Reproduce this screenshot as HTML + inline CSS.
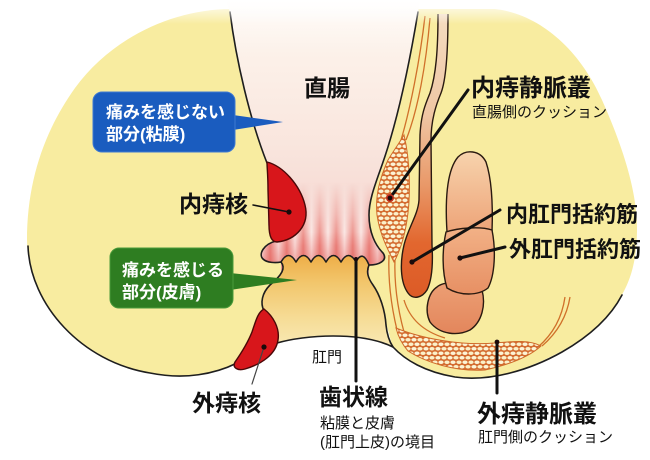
<!DOCTYPE html>
<html>
<head>
<meta charset="utf-8">
<style>
html,body{margin:0;padding:0;background:#fff;}
svg{display:block;}
text{font-family:"Liberation Sans","Noto Sans CJK JP",sans-serif;}
</style>
</head>
<body>
<svg xmlns="http://www.w3.org/2000/svg" width="650" height="460" viewBox="0 0 650 460">
<defs>
 <linearGradient id="rectg" x1="0" y1="0" x2="0" y2="270" gradientUnits="userSpaceOnUse">
  <stop offset="0" stop-color="#fffdfb"/>
  <stop offset="0.2" stop-color="#fcf1e9"/>
  <stop offset="0.55" stop-color="#f9e5dd"/>
  <stop offset="0.8" stop-color="#f6d8d2"/>
  <stop offset="1" stop-color="#f0c0ba"/>
 </linearGradient>
 <linearGradient id="colg" x1="0" y1="0" x2="1" y2="0">
  <stop offset="0" stop-color="#ea847e"/>
  <stop offset="0.5" stop-color="#fcefed"/>
  <stop offset="1" stop-color="#ea847e"/>
 </linearGradient>
 <pattern id="cols" x="286.75" y="0" width="16.5" height="460" patternUnits="userSpaceOnUse">
  <rect width="16.5" height="460" fill="url(#colg)"/>
 </pattern>
 <linearGradient id="fadeg" x1="0" y1="182" x2="0" y2="262" gradientUnits="userSpaceOnUse">
  <stop offset="0" stop-color="#000"/>
  <stop offset="0.4" stop-color="#666"/>
  <stop offset="0.8" stop-color="#fff"/>
 </linearGradient>
 <mask id="colmask" maskUnits="userSpaceOnUse" x="0" y="0" width="650" height="460">
  <rect x="250" y="170" width="150" height="100" fill="url(#fadeg)"/>
 </mask>
 <linearGradient id="redband" x1="0" y1="232" x2="0" y2="262" gradientUnits="userSpaceOnUse">
  <stop offset="0" stop-color="#e25a55" stop-opacity="0"/>
  <stop offset="1" stop-color="#e25a55" stop-opacity="0.45"/>
 </linearGradient>
 <clipPath id="canalclip">
  <path d="M 226,0 L 420,0 L 418,12 C 410,60 398,120 382,165 C 375,185 369,200 369,215 C 369,232 375,245 383,253 C 388,260 380,265 369,266 L 369,275 L 281,275 L 281,262 C 276,263 267,263 263,259 C 258,254 264,244 276,241 L 268,225 L 267,163 C 250,120 236,60 230,12 Z"/>
 </clipPath>
 <linearGradient id="anod" x1="0" y1="256" x2="0" y2="345" gradientUnits="userSpaceOnUse">
  <stop offset="0" stop-color="#eeae48"/>
  <stop offset="0.3" stop-color="#f2c66c"/>
  <stop offset="0.7" stop-color="#f6dc96"/>
  <stop offset="1" stop-color="#f8e8b2"/>
 </linearGradient>
 <linearGradient id="isph" x1="0" y1="14" x2="0" y2="300" gradientUnits="userSpaceOnUse">
  <stop offset="0" stop-color="#f4dcc0"/>
  <stop offset="0.35" stop-color="#efc6a4"/>
  <stop offset="0.6" stop-color="#e99868"/>
  <stop offset="0.8" stop-color="#e2672f"/>
  <stop offset="1" stop-color="#dc5a26"/>
 </linearGradient>
 <linearGradient id="esU" x1="0" y1="0" x2="0" y2="1">
  <stop offset="0" stop-color="#f7d3ad"/>
  <stop offset="1" stop-color="#eda276"/>
 </linearGradient>
 <linearGradient id="esM" x1="0" y1="0" x2="0" y2="1">
  <stop offset="0" stop-color="#f2b186"/>
  <stop offset="1" stop-color="#e79064"/>
 </linearGradient>
 <linearGradient id="esL" x1="0" y1="0" x2="0" y2="1">
  <stop offset="0" stop-color="#ec9f74"/>
  <stop offset="1" stop-color="#e3865c"/>
 </linearGradient>
 <pattern id="mesh" width="12" height="9" patternUnits="userSpaceOnUse">
  <rect width="12" height="9" fill="#d46c30"/>
  <ellipse cx="3" cy="2.25" rx="2.6" ry="1.75" fill="#fbf0c8"/>
  <ellipse cx="9" cy="2.25" rx="2.6" ry="1.75" fill="#fcf4d6"/>
  <ellipse cx="0" cy="6.75" rx="2.6" ry="1.75" fill="#fbf0c8"/>
  <ellipse cx="6" cy="6.75" rx="2.6" ry="1.75" fill="#fcf4d6"/>
  <ellipse cx="12" cy="6.75" rx="2.6" ry="1.75" fill="#fbf0c8"/>
 </pattern>
 <linearGradient id="topfade" x1="0" y1="0" x2="0" y2="1">
  <stop offset="0" stop-color="#fff" stop-opacity="1"/>
  <stop offset="1" stop-color="#fff" stop-opacity="0"/>
 </linearGradient>
</defs>

<rect width="650" height="460" fill="#fff"/>

<!-- left lobe -->
<path d="M 232,9 C 170,9 110,40 75,88 C 45,130 27,180 27,240 C 28,305 82,362 150,373 C 185,380 215,374 237,363 L 262,330 L 268,300 L 285,270 L 300,230 L 300,170 L 267,160 C 250,120 236,60 230,9 Z" fill="#f8eca0"/>
<!-- right lobe -->
<path d="M 414,9 L 495,9 C 540,14 580,50 602,100 C 622,145 637,190 637,228 C 637,262 630,282 620,298 C 602,330 565,352 530,366 C 495,380 460,381 440,374 C 418,367 400,355 392,345 L 380,300 L 366,270 L 366,200 L 380,160 Z" fill="#f8eca0"/>

<!-- rectum interior -->
<path d="M 226,0 L 420,0 L 418,12 C 410,60 398,120 382,165 C 375,185 369,200 369,215 C 369,232 375,245 383,253 C 388,260 380,265 369,266 L 369,275 L 281,275 L 281,262 C 276,263 267,263 263,259 C 258,254 264,244 276,241 L 268,225 L 267,163 C 250,120 236,60 230,12 Z" fill="url(#rectg)"/>

<!-- anal columns -->
<g clip-path="url(#canalclip)">
 <rect x="250" y="170" width="150" height="100" fill="url(#cols)" mask="url(#colmask)"/>
 <rect x="250" y="230" width="150" height="40" fill="url(#redband)"/>
</g>

<!-- anoderm -->
<path d="M 281,262 Q 288.5,249 296,262 Q 303.5,249 311,262 Q 318.5,249 326,262 Q 333.5,249 341,262 Q 348.5,249 356,262 Q 362.5,249 369,265 C 366,272 368,278 373,285 C 380,295 385,310 386,325 C 387,335 389,341 393,347 C 360,331 305,335 277,343 C 280,328 273,316 264,309 C 260,303 262,293 270,285 C 282,275 286,268 281,262 Z" fill="url(#anod)"/>

<!-- internal sphincter -->
<path d="M 438,14 C 438,50 436,75 430,93 C 425,105 421,115 420,135 L 419,200 C 418,215 408,228 404,245 C 400,262 400,282 408,293 C 413,300 422,298 427,290 C 432,280 433,262 432,245 L 431,140 C 431,120 436,105 441,93 C 446,80 448,55 448,14" fill="url(#isph)" stroke="#2a1a10" stroke-width="1.4"/>

<!-- orange vessel lines -->
<g fill="none" stroke="#d0702a" stroke-width="1.3">
 <path d="M 425,16 C 420,60 410,110 401,140"/>
 <path d="M 430,18 C 426,65 418,110 406,140"/>
 <path d="M 389,255 C 388,280 391,305 397,330"/>
 <path d="M 395,258 C 394,285 398,310 404,332"/>
 <path d="M 538,347 C 552,335 562,318 565,297"/>
 <path d="M 542,346 C 557,333 567,316 570,297"/>
 <path d="M 404,300 C 410,320 425,332 445,338"/>
</g>

<!-- internal venous plexus -->
<path d="M 404,135 C 410,160 411,195 407,220 C 404,240 398,255 394,262 C 388,250 380,235 377,215 C 375,195 380,178 388,160 C 394,150 400,142 404,135 Z" fill="url(#mesh)" stroke="#cf6a2a" stroke-width="1"/>

<!-- external venous plexus -->
<path d="M 396,328 C 420,338 460,346 495,343 C 515,341 530,340 541,346 C 530,356 512,364 485,370 C 455,372 425,362 408,351 C 402,344 398,336 396,328 Z" fill="url(#mesh)" stroke="#cf6a2a" stroke-width="1"/>

<!-- external sphincter lobes -->
<path d="M 437,287 C 445,280 470,282 482,290 C 486,305 482,322 470,330 C 458,336 440,335 430,322 C 424,310 428,293 437,287 Z" fill="url(#esL)" stroke="#2a1a10" stroke-width="1.4"/>
<path d="M 447,232 C 445,200 447,170 458,157 C 466,149 480,150 486,162 C 492,180 493,205 492,232 C 478,236 460,236 447,232 Z" fill="url(#esU)" stroke="#2a1a10" stroke-width="1.4"/>
<path d="M 446,232 C 458,228 480,226 492,230 C 496,250 495,275 488,288 C 478,296 460,296 447,288 C 442,272 442,250 446,232 Z" fill="url(#esM)" stroke="#2a1a10" stroke-width="1.4"/>

<!-- black outlines -->
<g fill="none" stroke="#1e1e1e" stroke-width="1.6" stroke-linecap="round" stroke-linejoin="round">
 <path d="M 230,12 C 236,60 250,120 267,163"/>
 <path d="M 276,241 C 264,244 258,254 263,259 C 267,263 276,263 281,262"/>
 <path d="M 281,262 C 286,268 282,275 270,285 C 262,293 260,303 264,311"/>
 <path d="M 281,262 Q 288.5,249 296,262 Q 303.5,249 311,262 Q 318.5,249 326,262 Q 333.5,249 341,262 Q 348.5,249 356,262 Q 362.5,249 369,265"/>
 <path d="M 277,343 C 305,335 360,331 393,347"/>
 <path d="M 418,12 C 410,60 398,120 382,165 C 375,185 369,200 369,215 C 369,232 375,245 383,253 C 388,260 380,265 369,265 C 366,272 368,278 373,285 C 380,295 385,310 386,325 C 387,335 389,341 393,347 C 405,360 425,372 455,377 C 490,382 530,370 562,352 C 590,336 610,318 622,295"/>
 <path d="M 28,246 C 30,305 82,362 150,373 C 185,380 215,374 237,363"/>
</g>

<!-- hemorrhoids -->
<path d="M 267,162 C 283,166 300,185 305,205 C 310,225 296,240 277,242 C 271,242 269,235 269,225 L 268,190 C 268,175 267,168 267,162 Z" fill="#d8161b" stroke="#4a0808" stroke-width="1.4"/>
<path d="M 264,309 C 273,316 280,328 278,340 C 276,354 262,364 245,369 C 238,371 232,368 235,362 C 242,352 248,342 252,332 C 256,320 258,312 264,309 Z" fill="#d8161b" stroke="#4a0808" stroke-width="1.4"/>

<!-- top fade -->
<rect x="0" y="0" width="650" height="24" fill="url(#topfade)"/>

<!-- callouts -->
<polygon points="233,115 283,122 233,130" fill="#1a5cbf"/>
<rect x="93" y="92" width="142" height="60" rx="9" fill="#1a5cbf" stroke="#3f7ad2" stroke-width="1"/>
<text x="106" y="118" font-size="17" font-weight="bold" fill="#fff">痛みを感じない</text>
<text x="106" y="140" font-size="17" font-weight="bold" fill="#fff">部分(粘膜)</text>

<polygon points="230,273 297,280 230,290" fill="#2e7d21"/>
<rect x="110" y="248" width="123" height="60" rx="9" fill="#2e7d21" stroke="#4a9a3a" stroke-width="1"/>
<text x="122" y="276" font-size="17" font-weight="bold" fill="#fff">痛みを感じる</text>
<text x="122" y="298" font-size="17" font-weight="bold" fill="#fff">部分(皮膚)</text>

<!-- pointer lines -->
<g stroke="#111" fill="none" stroke-linecap="round">
 <line x1="253" y1="205" x2="289" y2="212" stroke-width="1.5"/>
 <line x1="264" y1="347" x2="252" y2="384" stroke-width="1.2" stroke="#444"/>
 <line x1="356" y1="259" x2="356" y2="381" stroke-width="3"/>
 <line x1="468" y1="90" x2="390" y2="198" stroke-width="3"/>
 <line x1="500" y1="210" x2="412" y2="262" stroke-width="3"/>
 <line x1="505" y1="247" x2="460" y2="258" stroke-width="3"/>
 <line x1="497" y1="342" x2="497" y2="393" stroke-width="3"/>
</g>
<circle cx="390" cy="198" r="4" fill="#c03020"/>
<g fill="#1a0a0a">
 <circle cx="289" cy="212" r="2.6"/>
 <circle cx="264" cy="347" r="2.6"/>
 <circle cx="390" cy="198" r="2.4"/>
 <circle cx="412" cy="262" r="2.6"/>
 <circle cx="460" cy="258" r="2.6"/>
 <circle cx="497" cy="342" r="2.4"/>
 <circle cx="356" cy="259" r="2"/>
</g>

<!-- labels -->
<g fill="#111">
 <text x="304" y="96" font-size="23" font-weight="bold">直腸</text>
 <text x="179" y="212" font-size="23" font-weight="bold">内痔核</text>
 <text x="192" y="411" font-size="23" font-weight="bold">外痔核</text>
 <text x="312" y="362" font-size="15">肛門</text>
 <text x="319" y="405" font-size="23" font-weight="bold">歯状線</text>
 <text x="320" y="428" font-size="15">粘膜と皮膚</text>
 <text x="320" y="447" font-size="15">(肛門上皮)の境目</text>
 <text x="471" y="96" font-size="24" font-weight="bold">内痔静脈叢</text>
 <text x="472" y="117" font-size="15">直腸側のクッション</text>
 <text x="506" y="222" font-size="22" font-weight="bold">内肛門括約筋</text>
 <text x="509" y="257" font-size="22" font-weight="bold">外肛門括約筋</text>
 <text x="477" y="422" font-size="24" font-weight="bold">外痔静脈叢</text>
 <text x="478" y="442" font-size="15">肛門側のクッション</text>
</g>
</svg>
</body>
</html>
